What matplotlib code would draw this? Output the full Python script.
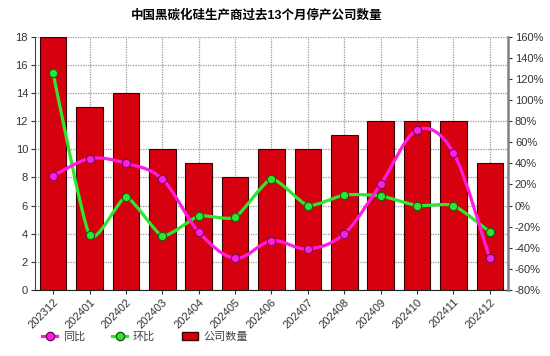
import matplotlib

matplotlib.use("Agg")
import matplotlib.pyplot as plt
from matplotlib.path import Path
from matplotlib.patches import PathPatch
from matplotlib.lines import Line2D
from matplotlib.patches import Patch
from matplotlib.ticker import FuncFormatter

plt.rcParams["font.family"] = ["Liberation Sans", "Noto Sans CJK SC", "DejaVu Sans"]

months = ["202312", "202401", "202402", "202403", "202404", "202405", "202406",
          "202407", "202408", "202409", "202410", "202411", "202412"]
company_count = [18, 13, 14, 10, 9, 8, 10, 10, 11, 12, 12, 12, 9]
yoy = [28, 44.4, 40, 25, -25, -50, -33.3, -41.2, -26.7, 20, 71.4, 50, -50]   # 同比 %
mom = [125, -27.8, 7.7, -28.6, -10, -11.1, 25, 0, 10, 9.1, 0, 0, -25]        # 环比 %

BAR_RED = "#D7000F"
MAGENTA = "#FF1EE0"
GREEN = "#2EE62E"


def smooth_path(xs, ys, tension=0.5):
    # cardinal spline (GDI+ style) as cubic bezier segments
    pts = list(zip(xs, ys))
    n = len(pts)
    verts = [pts[0]]
    codes = [Path.MOVETO]
    for i in range(n - 1):
        p0 = pts[i - 1] if i > 0 else pts[i]
        p1 = pts[i]
        p2 = pts[i + 1]
        p3 = pts[i + 2] if i + 2 < n else pts[i + 1]
        c1 = (p1[0] + tension / 3 * (p2[0] - p0[0]), p1[1] + tension / 3 * (p2[1] - p0[1]))
        c2 = (p2[0] - tension / 3 * (p3[0] - p1[0]), p2[1] - tension / 3 * (p3[1] - p1[1]))
        verts += [c1, c2, p2]
        codes += [Path.CURVE4] * 3
    return Path(verts, codes)


fig = plt.figure(figsize=(5.5, 3.56), dpi=100)
ax = fig.add_axes([0.0636, 0.1854, 0.86, 0.712])
ax2 = ax.twinx()

x = list(range(len(months)))
ax.bar(x, company_count, width=0.73, color=BAR_RED, edgecolor="#3a0000", linewidth=0.8, zorder=2)
ax.set_ylim(0, 18)
ax.set_xlim(-0.5, len(months) - 0.5)
ax.set_yticks(range(0, 19, 2))
ax.set_xticks(x)
ax.set_xticklabels(months, rotation=45, ha="right", rotation_mode="anchor")
ax.grid(True, color="#999999", linestyle=(0, (1, 1)), linewidth=0.9, zorder=0)
ax.set_axisbelow(True)

ax2.set_ylim(-80, 160)
ax2.set_yticks(range(-80, 161, 20))
ax2.yaxis.set_major_formatter(FuncFormatter(lambda v, p: f"{int(v)}%"))

for series, col, edge, tens in [(mom, GREEN, "#1a5a1a", 0.3), (yoy, MAGENTA, "#6a1060", 0.5)]:
    ax2.add_patch(PathPatch(smooth_path(x, series, tens), facecolor="none", edgecolor=col,
                            linewidth=2.3, zorder=3))
    ax2.plot(x, series, linestyle="none", marker="o", markersize=6, markerfacecolor=col,
             markeredgecolor=edge, markeredgewidth=0.8, zorder=4)

for a in (ax, ax2):
    a.tick_params(labelsize=8, length=3, width=0.8, colors="#333333", pad=2)
    a.spines["top"].set_visible(False)
ax.spines["right"].set_visible(False)
ax2.spines["left"].set_visible(False)
ax2.spines["bottom"].set_visible(False)
ax2.spines["right"].set_color("#808080")
ax2.spines["right"].set_linewidth(1.8)
ax.spines["left"].set_color("#444444")
ax.spines["bottom"].set_color("#222222")

fig.text(0.467, 0.957, "中国黑碳化硅生产商过去13个月停产公司数量", ha="center", va="center",
         fontsize=9, fontweight="bold")

handles = [
    Line2D([], [], color=MAGENTA, linewidth=2.3, marker="o", markersize=6,
           markerfacecolor=MAGENTA, markeredgecolor="#6a1060"),
    Line2D([], [], color=GREEN, linewidth=2.3, marker="o", markersize=6,
           markerfacecolor=GREEN, markeredgecolor="#1a5a1a"),
    Patch(facecolor=BAR_RED, edgecolor="#3a0000"),
]
fig.legend(handles, ["同比", "环比", "公司数量"], loc="center left", bbox_to_anchor=(0.058, 0.055),
           ncol=3, frameon=False, fontsize=8, handlelength=1.4, columnspacing=2.4,
           handletextpad=0.5, labelcolor="#444444")

fig.savefig("out.png", dpi=100)
